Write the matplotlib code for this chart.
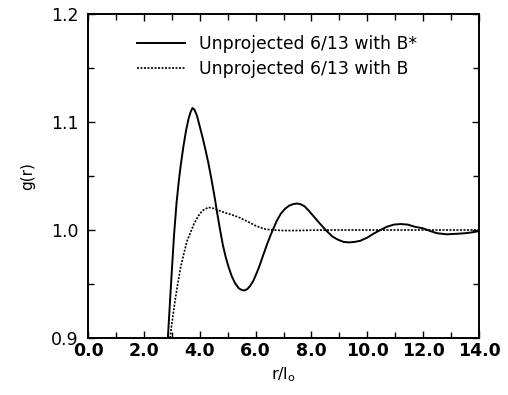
import matplotlib
matplotlib.use("Agg")
import matplotlib.pyplot as plt
from matplotlib.ticker import MultipleLocator, FormatStrFormatter

# g(r)
r_bstar = [2.86, 2.95, 3.02, 3.08, 3.17, 3.25, 3.32, 3.42, 3.51, 3.60,
           3.67, 3.74, 3.81, 3.90, 3.99, 4.10, 4.20, 4.31, 4.42, 4.53,
           4.63, 4.73, 4.83, 4.93, 5.03, 5.15, 5.27, 5.40, 5.50, 5.59,
           5.70, 5.80, 5.92, 6.02, 6.13, 6.25, 6.40, 6.55, 6.65, 6.75,
           6.90, 7.05, 7.20, 7.35, 7.48, 7.60, 7.75, 7.90, 8.10, 8.30,
           8.55, 8.75, 8.95, 9.15, 9.35, 9.55, 9.75, 10.0, 10.25, 10.47,
           10.7, 10.95, 11.2, 11.45, 11.7, 12.0, 12.26, 12.5, 12.85, 13.2,
           13.5, 13.8, 14.0]
g_bstar = [0.900, 0.940, 0.970, 0.995, 1.025, 1.045, 1.060, 1.078, 1.092, 1.103,
           1.109, 1.113, 1.1115, 1.106, 1.097, 1.086, 1.075, 1.062, 1.047, 1.031,
           1.015, 1.000, 0.986, 0.975, 0.966, 0.957, 0.9506, 0.946, 0.9445, 0.944,
           0.9452, 0.948, 0.953, 0.959, 0.966, 0.975, 0.986, 0.996, 1.002, 1.008,
           1.015, 1.0195, 1.0225, 1.024, 1.0245, 1.024, 1.022, 1.018, 1.012, 1.006,
           0.999, 0.994, 0.991, 0.989, 0.9885, 0.989, 0.990, 0.993, 0.997, 1.000,
           1.003, 1.005, 1.0055, 1.005, 1.003, 1.0015, 0.999, 0.997, 0.996, 0.9965,
           0.997, 0.998, 0.999]

r_b = [2.94, 3.00, 3.12, 3.20, 3.32, 3.45, 3.55, 3.66, 3.80, 3.95,
       4.10, 4.31, 4.50, 4.70, 4.90, 5.10, 5.38, 5.70, 6.00, 6.30,
       6.60, 7.00, 7.50, 8.00, 9.00, 10.0, 11.0, 12.0, 13.0, 14.0]
g_b = [0.900, 0.913, 0.935, 0.948, 0.966, 0.980, 0.990, 0.997, 1.006, 1.013,
       1.018, 1.021, 1.020, 1.018, 1.016, 1.0145, 1.012, 1.008, 1.004, 1.001,
       1.000, 0.9995, 0.9995, 0.9998, 1.000, 1.000, 1.000, 1.000, 1.000, 1.000]

labels = ["Unprojected 6/13 with B*", "Unprojected 6/13 with B"]

figure = plt.figure(figsize=(5.08, 3.95), dpi=100)
axis = figure.add_axes([88 / 508, 1 - 338 / 395, (479 - 88) / 508, (338 - 14) / 395])

axis.plot(r_bstar, g_bstar, color="black", linewidth=1.4, label=labels[0])
axis.plot(r_b, g_b, color="black", linewidth=1.2, linestyle=(0, (1.2, 0.9)), label=labels[1])

axis.set_xlim(0, 14)
axis.set_ylim(0.9, 1.2)
axis.xaxis.set_major_locator(MultipleLocator(2))
axis.xaxis.set_minor_locator(MultipleLocator(1))
axis.yaxis.set_major_locator(MultipleLocator(0.1))
axis.yaxis.set_minor_locator(MultipleLocator(0.05))
axis.xaxis.set_major_formatter(FormatStrFormatter("%.1f"))
axis.yaxis.set_major_formatter(FormatStrFormatter("%.1f"))

axis.tick_params(which="both", direction="in", top=True, right=True, width=1.0)
axis.tick_params(which="major", length=5)
axis.tick_params(which="minor", length=4)
axis.tick_params(axis="x", which="major", pad=3, labelsize=12.5)
axis.tick_params(axis="y", which="major", pad=7, labelsize=12.5)
for label in axis.get_xticklabels():
    label.set_fontweight("bold")
for spine in axis.spines.values():
    spine.set_linewidth(1.4)

axis.set_xlabel(r"r/l$_\mathrm{o}$", fontsize=11.5, labelpad=4)
axis.set_ylabel("g(r)", fontsize=11, labelpad=11)

axis.legend(
    loc="upper left",
    bbox_to_anchor=(137 / 508, 1 - 35 / 395),
    bbox_transform=figure.transFigure,
    frameon=False,
    fontsize=12.4,
    handlelength=2.8,
    handletextpad=0.8,
    labelspacing=0.42,
    borderpad=0,
    borderaxespad=0,
)

figure.savefig("out.png", dpi=100)
